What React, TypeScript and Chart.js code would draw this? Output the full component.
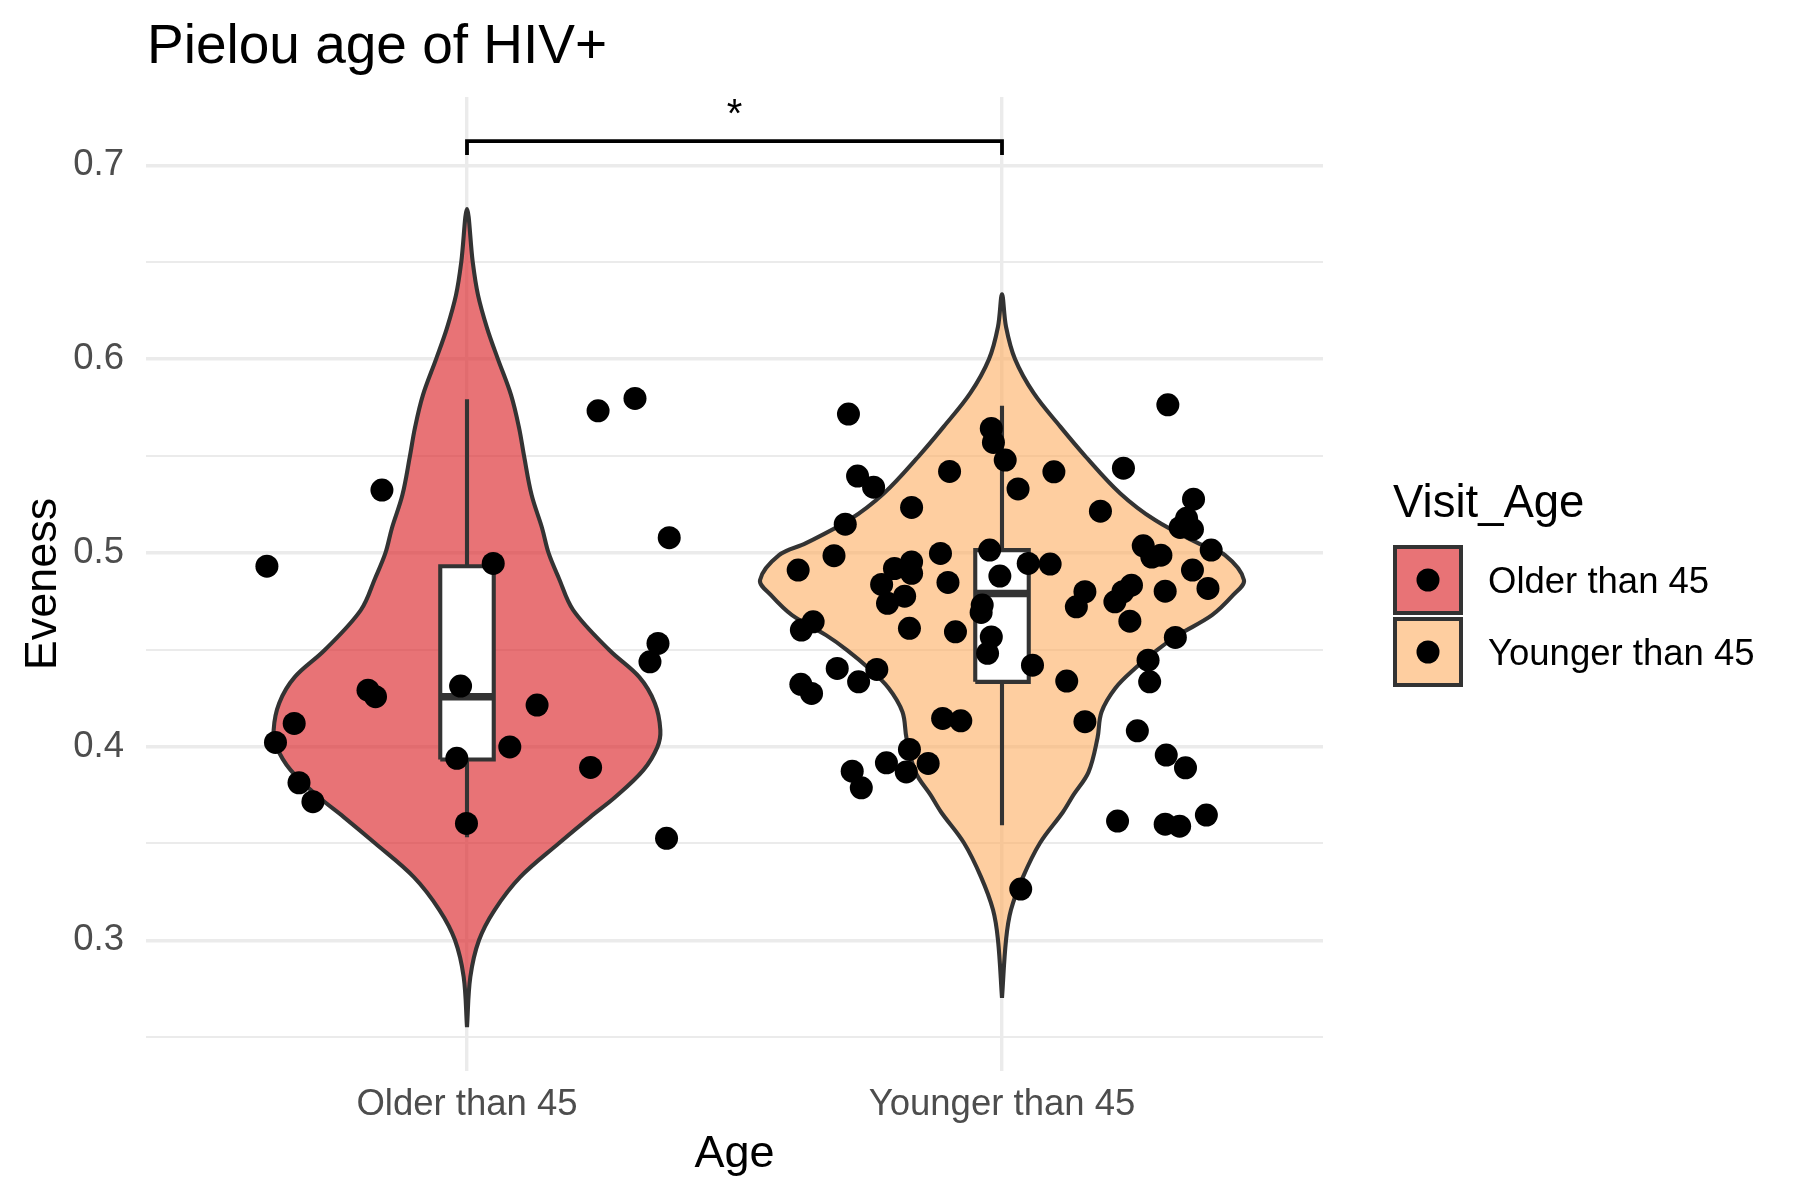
import React, { useEffect, useRef } from "react";
import { Chart, registerables } from "chart.js";

Chart.register(...registerables);

// ---------- data ----------
const chartTitle = "Pielou age of HIV+";
const xAxisTitle = "Age";
const yAxisTitle = "Eveness";
const legendTitle = "Visit_Age";
const categories = ["Older than 45", "Younger than 45"];
const yMajorTicks = [0.3, 0.4, 0.5, 0.6, 0.7];
const yMinorTicks = [0.25, 0.35, 0.45, 0.55, 0.65];
const significanceLabel = "*";
const bracketLevels = [0.7053, 0.7125]; // drop end, top bar

// jittered points: offset from category centre, and value
const olderJitter = [
  -0.374, -0.159, 0.049, 0.245, 0.314, 0.378, 0.357, 0.342, -0.185, -0.171, -0.012,
  0.131, -0.323, -0.358, 0.080, -0.019, 0.231, -0.314, -0.288, -0.001, 0.373,
];
const olderValues = [
  0.4931, 0.5324, 0.4945, 0.5733, 0.5797, 0.5078, 0.4532, 0.4437, 0.4291, 0.4257, 0.4312,
  0.4214, 0.4119, 0.4021, 0.3998, 0.3939, 0.3892, 0.3813, 0.3715, 0.3603, 0.3526,
];
const youngerJitter = [
  -0.287, 0.310, -0.020, -0.016, 0.006, -0.270, -0.240, -0.098, 0.097, 0.030, 0.227,
  -0.169, 0.184, 0.358, -0.293, 0.345, 0.333, 0.356, 0.264, 0.280, 0.297, 0.391,
  -0.023, -0.115, -0.314, -0.381, -0.201, -0.169, -0.169, -0.225, -0.101, -0.004,
  0.049, 0.090, -0.182, -0.214, -0.037, -0.039, -0.375, -0.353, -0.173, -0.087,
  -0.020, -0.027, 0.057, -0.308, -0.268, -0.234, -0.376, -0.356, 0.121, 0.273,
  0.276, 0.324, 0.139, 0.155, 0.211, 0.226, 0.242, 0.239, 0.356, 0.385, 0.305,
  0.155, 0.253, 0.307, 0.343, -0.111, -0.077, -0.173, -0.216, -0.179, -0.138,
  -0.280, -0.263, 0.216, 0.305, 0.332, 0.382, 0.035,
];
const youngerValues = [
  0.5716, 0.5764, 0.5642, 0.5570, 0.5479, 0.5396, 0.5339, 0.5420, 0.5418, 0.5330, 0.5437,
  0.5234, 0.5215, 0.5277, 0.5148, 0.5178, 0.5131, 0.5121, 0.5036, 0.4978, 0.4988, 0.5014,
  0.5014, 0.4997, 0.4985, 0.4911, 0.4919, 0.4953, 0.4894, 0.4837, 0.4847, 0.4880,
  0.4945, 0.4942, 0.4776, 0.4739, 0.4730, 0.4692, 0.4601, 0.4644, 0.4610, 0.4592,
  0.4566, 0.4481, 0.4420, 0.4403, 0.4334, 0.4398, 0.4321, 0.4274, 0.4338, 0.4446,
  0.4334, 0.4563, 0.4721, 0.4799, 0.4747, 0.4799, 0.4833, 0.4647, 0.4911, 0.4816, 0.4802,
  0.4128, 0.4081, 0.3956, 0.3890, 0.4145, 0.4133, 0.3985, 0.3916, 0.3869, 0.3913,
  0.3873, 0.3787, 0.3615, 0.3599, 0.3589, 0.3646, 0.3264,
];

// violin outlines: value levels and half-widths (in category units)
const olderViolinLevels = [
  0.2552, 0.2810, 0.3001, 0.3156, 0.3326, 0.3502, 0.3636, 0.3739, 0.3878, 0.3997, 0.4085,
  0.4224, 0.4358, 0.4498, 0.4704, 0.4869, 0.4998, 0.5127, 0.5298, 0.5499, 0.5644, 0.5814,
  0.6005, 0.6160, 0.6330, 0.6501, 0.6774,
];
const olderViolinHalfWidth = [
  0, 0.0062, 0.0225, 0.0515, 0.0993, 0.1723, 0.2303, 0.2772, 0.3296, 0.3558, 0.3614,
  0.3511, 0.3221, 0.2659, 0.1985, 0.1717, 0.1526, 0.1404, 0.1208, 0.1067, 0.0974, 0.0824,
  0.0571, 0.0375, 0.0206, 0.0107, 0,
];
const youngerViolinLevels = [
  0.2702, 0.3001, 0.3157, 0.3327, 0.3502, 0.3662, 0.3750, 0.3868, 0.4044, 0.4178, 0.4302,
  0.4405, 0.4498, 0.4575, 0.4678, 0.4781, 0.4859, 0.4988, 0.5050, 0.5169, 0.5308, 0.5501,
  0.5650, 0.5824, 0.6000, 0.6167, 0.6335,
];
const youngerViolinHalfWidth = [
  0, 0.0075, 0.0168, 0.0393, 0.0710, 0.1140, 0.1336, 0.1617, 0.1785, 0.1860, 0.2121,
  0.2495, 0.2897, 0.3290, 0.3925, 0.4318, 0.4523, 0.4168, 0.3664, 0.2860, 0.2206, 0.1551,
  0.1093, 0.0593, 0.0243, 0.0075, 0,
];

// box stats: [lower whisker, Q1, median, Q3, upper whisker]
const olderBox = [0.3532, 0.3933, 0.4257, 0.4931, 0.5793];
const youngerBox = [0.3594, 0.4334, 0.479, 0.5014, 0.5759];

// ---------- styling ----------
const FONT = "'Liberation Sans', Arial, Helvetica, sans-serif";
const fills = ["rgba(220,40,45,0.65)", "rgba(253,174,97,0.6)"];
const OUTLINE = "#333333";
const BOX_HALF = 0.05;
const LINE_W = 4.1;

const isMajor = (v: number) => yMajorTicks.some((m) => Math.abs(m - v) < 1e-6);

function violinPath(center: number, levels: number[], hw: number[]) {
  const right = levels.map((y, i) => ({ x: center + hw[i], y }));
  const left = levels.map((y, i) => ({ x: center - hw[i], y })).reverse();
  return right.concat(left.slice(1));
}

function boxDatasets(center: number, stats: number[], order: number) {
  const [lo, q1, med, q3, hi] = stats;
  const base = {
    type: "line" as const,
    borderColor: OUTLINE,
    pointRadius: 0,
    tension: 0,
    showLine: true,
  };
  return [
    { ...base, data: [{ x: center, y: q3 }, { x: center, y: hi }], borderWidth: LINE_W, fill: false, order: order + 1 },
    { ...base, data: [{ x: center, y: q1 }, { x: center, y: lo }], borderWidth: LINE_W, fill: false, order: order + 1 },
    {
      ...base,
      data: [
        { x: center - BOX_HALF, y: q1 },
        { x: center + BOX_HALF, y: q1 },
        { x: center + BOX_HALF, y: q3 },
        { x: center - BOX_HALF, y: q3 },
        { x: center - BOX_HALF, y: q1 },
      ],
      borderWidth: LINE_W,
      backgroundColor: "#ffffff",
      fill: "shape",
      borderJoinStyle: "miter" as const,
      order,
    },
    {
      ...base,
      data: [{ x: center - BOX_HALF, y: med }, { x: center + BOX_HALF, y: med }],
      borderWidth: 7.5,
      borderCapStyle: "butt" as const,
      fill: false,
      order: order - 1,
    },
  ];
}

const textPlugin = {
  id: "textLayer",
  afterDraw(chart: any) {
    const { ctx, chartArea, scales } = chart;
    ctx.save();
    ctx.fillStyle = "#000000";
    ctx.textBaseline = "alphabetic";

    // title
    ctx.font = `55px ${FONT}`;
    ctx.textAlign = "left";
    ctx.fillText(chartTitle, chartArea.left + 1, 63);

    // axis titles
    ctx.font = `45px ${FONT}`;
    ctx.textAlign = "center";
    ctx.fillText(xAxisTitle, (chartArea.left + chartArea.right) / 2, 1167);
    ctx.save();
    ctx.translate(56, (chartArea.top + chartArea.bottom) / 2);
    ctx.rotate(-Math.PI / 2);
    ctx.fillText(yAxisTitle, 0, 0);
    ctx.restore();

    // significance star
    ctx.font = `40px ${FONT}`;
    ctx.textAlign = "center";
    ctx.fillText(
      significanceLabel,
      scales.x.getPixelForValue(1.5),
      scales.y.getPixelForValue(bracketLevels[1]) - 14
    );

    // legend
    ctx.textAlign = "left";
    ctx.font = `45.5px ${FONT}`;
    ctx.fillText(legendTitle, 1393, 517);
    const keyX = 1393;
    const keySize = 70;
    const keyYs = [545, 617];
    categories.forEach((cat, i) => {
      const ky = keyYs[i];
      ctx.fillStyle = "#ffffff";
      ctx.fillRect(keyX, ky, keySize, keySize);
      ctx.fillStyle = fills[i];
      ctx.fillRect(keyX, ky, keySize, keySize);
      ctx.lineWidth = 4;
      ctx.strokeStyle = OUTLINE;
      ctx.strokeRect(keyX + 2, ky + 2, keySize - 4, keySize - 4);
      ctx.fillStyle = "#000000";
      ctx.beginPath();
      ctx.arc(keyX + keySize / 2, ky + keySize / 2, 11.5, 0, Math.PI * 2);
      ctx.fill();
      ctx.font = `36.5px ${FONT}`;
      ctx.fillText(cat, 1488, ky + keySize / 2 + 13);
    });
    ctx.restore();
  },
};

export default function App() {
  const canvasRef = useRef<HTMLCanvasElement | null>(null);

  useEffect(() => {
    if (!canvasRef.current) return;

    const violins = [
      {
        type: "line" as const,
        data: violinPath(1, olderViolinLevels, olderViolinHalfWidth),
        backgroundColor: fills[0],
        borderColor: OUTLINE,
        borderWidth: LINE_W,
        pointRadius: 0,
        tension: 0.35,
        fill: "shape",
        showLine: true,
        order: 20,
      },
      {
        type: "line" as const,
        data: violinPath(2, youngerViolinLevels, youngerViolinHalfWidth),
        backgroundColor: fills[1],
        borderColor: OUTLINE,
        borderWidth: LINE_W,
        pointRadius: 0,
        tension: 0.35,
        fill: "shape",
        showLine: true,
        order: 20,
      },
    ];

    const bracket = {
      type: "line" as const,
      data: [
        { x: 1, y: bracketLevels[0] },
        { x: 1, y: bracketLevels[1] },
        { x: 2, y: bracketLevels[1] },
        { x: 2, y: bracketLevels[0] },
      ],
      borderColor: "#000000",
      borderWidth: 3.8,
      pointRadius: 0,
      tension: 0,
      fill: false,
      showLine: true,
      order: 15,
    };

    const points = {
      type: "scatter" as const,
      data: [
        ...olderValues.map((y, i) => ({ x: 1 + olderJitter[i], y })),
        ...youngerValues.map((y, i) => ({ x: 2 + youngerJitter[i], y })),
      ],
      backgroundColor: "#000000",
      borderWidth: 0,
      pointRadius: 11.5,
      order: 0,
    };

    const chart = new Chart(canvasRef.current, {
      type: "scatter",
      data: {
        datasets: [
          points,
          ...boxDatasets(1, olderBox, 5),
          ...boxDatasets(2, youngerBox, 5),
          bracket,
          ...violins,
        ] as any,
      },
      options: {
        animation: false,
        responsive: false,
        devicePixelRatio: 1,
        events: [],
        layout: { padding: { left: 0, top: 97, right: 477, bottom: 0 } },
        plugins: {
          legend: { display: false },
          tooltip: { enabled: false },
          title: { display: false },
        },
        scales: {
          x: {
            type: "linear",
            min: 0.4,
            max: 2.6,
            afterBuildTicks: (s: any) => {
              s.ticks = categories.map((_, i) => ({ value: i + 1 }));
            },
            afterFit: (s: any) => {
              s.height = 129;
            },
            ticks: {
              callback: (v: any) => categories[Math.round(Number(v)) - 1] ?? "",
              font: { size: 36.5, family: FONT },
              color: "#4D4D4D",
              padding: 12,
              autoSkip: false,
              maxRotation: 0,
            },
            grid: { color: "#EBEBEB", lineWidth: 3.4, drawTicks: false },
            border: { display: false },
          },
          y: {
            type: "linear",
            min: 0.2325,
            max: 0.7353,
            afterBuildTicks: (s: any) => {
              s.ticks = [...yMinorTicks, ...yMajorTicks]
                .sort((a, b) => a - b)
                .map((v) => ({ value: v }));
            },
            afterFit: (s: any) => {
              s.width = 146;
            },
            ticks: {
              callback: (v: any) => (isMajor(Number(v)) ? Number(v).toFixed(1) : ""),
              font: { size: 36.5, family: FONT },
              color: "#4D4D4D",
              padding: 22,
              autoSkip: false,
            },
            grid: {
              color: "#EBEBEB",
              lineWidth: (ctx: any) => (ctx.tick && isMajor(ctx.tick.value) ? 3.4 : 2),
              drawTicks: false,
            },
            border: { display: false },
          },
        },
      } as any,
      plugins: [textPlugin],
    });

    return () => chart.destroy();
  }, []);

  return (
    <div style={{ position: "absolute", left: 0, top: 0, width: 1800, height: 1200, background: "#ffffff" }}>
      <canvas ref={canvasRef} width={1800} height={1200} style={{ width: 1800, height: 1200 }} />
    </div>
  );
}
